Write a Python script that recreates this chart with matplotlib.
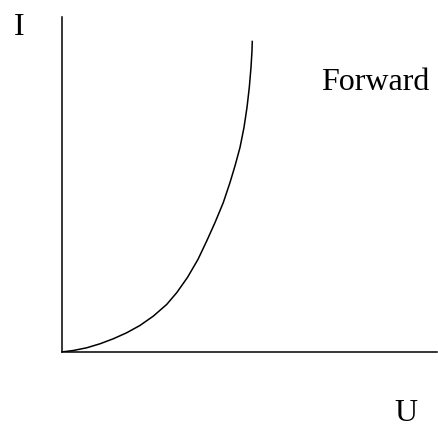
import numpy as np
import matplotlib
matplotlib.use("Agg")
import matplotlib.pyplot as plt

# forward characteristic (U and I in relative units, 1 = top of curve)
u_values = [0.0, 0.0618, 0.1321, 0.2018, 0.2715, 0.3417, 0.4114, 0.4811, 0.5514,
            0.6038, 0.6604, 0.7154, 0.7610, 0.8045, 0.8480, 0.8831, 0.9093, 0.9355,
            0.9565, 0.9722, 0.9843, 0.9932, 0.9984, 1.0]
i_values = [0.0, 0.0048, 0.0135, 0.0264, 0.0425, 0.0618, 0.0853, 0.1152, 0.1528,
            0.1905, 0.2397, 0.2976, 0.3565, 0.4157, 0.4801, 0.5444, 0.5978, 0.6570,
            0.7214, 0.7857, 0.8501, 0.9144, 0.9678, 1.0]

label_i = "I"
label_u = "U"
label_curve = "Forward"

W, H = 438, 427
fig = plt.figure(figsize=(W / 100, H / 100), dpi=100)
plt.rcParams['font.family'] = ['Liberation Serif', 'DejaVu Serif']

# axes placed in pixel terms: left 61.5, right 437, top 18, bottom 353
ax = fig.add_axes([61.5 / W, 1 - 353 / H, (437 - 61.5) / W, (353 - 18) / H])
ax.plot(u_values, i_values, color='black', linewidth=1.1,
        solid_capstyle='butt', solid_joinstyle='round')
ax.set_xlim(0, (437 - 61.5) / 190.8)
ax.set_ylim(0, (353 - 18) / 311.3)

for side in ['top', 'right']:
    ax.spines[side].set_visible(False)
for side in ['left', 'bottom']:
    ax.spines[side].set_linewidth(1.1)
    ax.spines[side].set_color('black')
ax.set_xticks([])
ax.set_yticks([])

fig.text(19 / W, 1 - 35 / H, label_i, fontsize=23, ha='center', va='baseline')
fig.text(375 / W, 1 - 90 / H, label_curve, fontsize=23, ha='center', va='baseline')
fig.text(406 / W, 1 - 421 / H, label_u, fontsize=23, ha='center', va='baseline')

fig.savefig("out.png", dpi=100)
